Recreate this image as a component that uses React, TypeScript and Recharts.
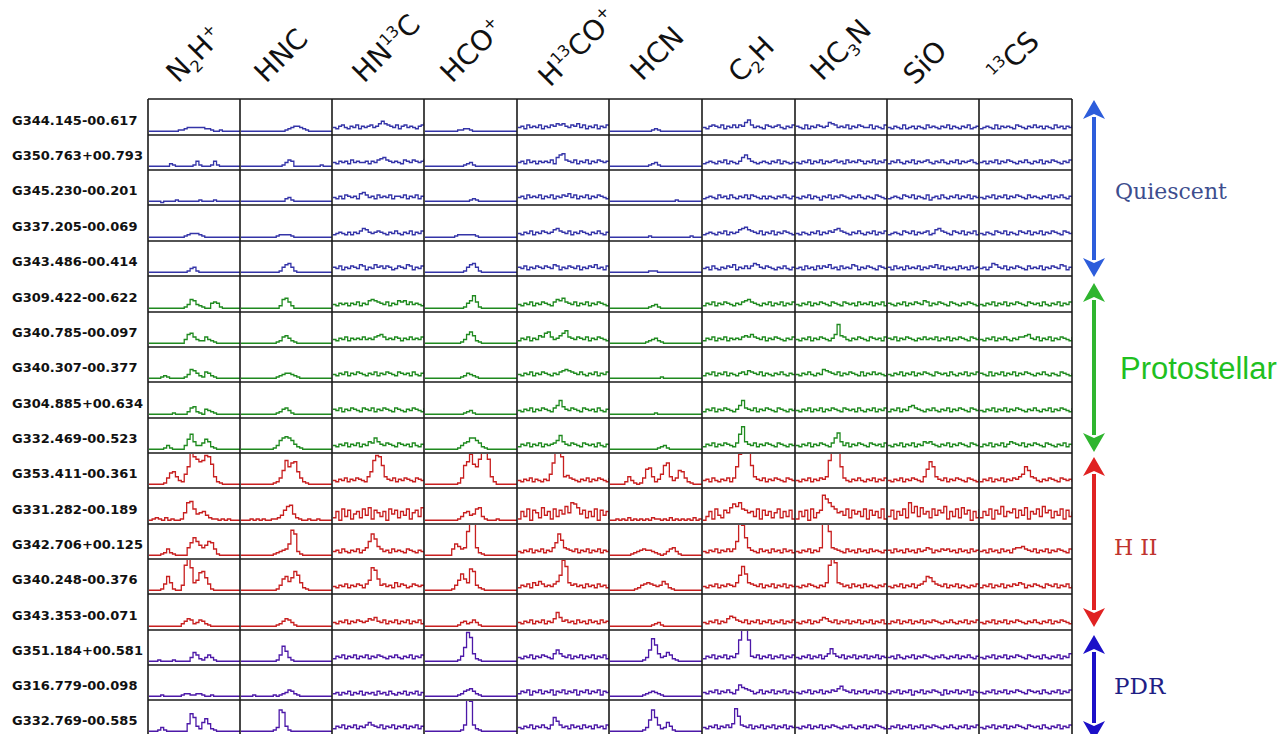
import React from "react";
import { LineChart, Line, XAxis, YAxis } from "recharts";

// source names, top to bottom
const sources = [
  "G344.145-00.617", "G350.763+00.793", "G345.230-00.201", "G337.205-00.069", "G343.486-00.414",
  "G309.422-00.622", "G340.785-00.097", "G340.307-00.377", "G304.885+00.634", "G332.469-00.523",
  "G353.411-00.361", "G331.282-00.189", "G342.706+00.125", "G340.248-00.376", "G343.353-00.071",
  "G351.184+00.581", "G316.779-00.098", "G332.769-00.585",
];

// group of each source row
const rowGroup = [0, 0, 0, 0, 0, 1, 1, 1, 1, 1, 2, 2, 2, 2, 2, 3, 3, 3];

const groups = [
  { name: "Quiescent", line: "#3434a8", arrow: "#2d5ddb", text: "#3d4d8e" },
  { name: "Protostellar", line: "#1f8a1f", arrow: "#2fb52f", text: "#1fc01f" },
  { name: "H II", line: "#c81f1f", arrow: "#e02222", text: "#c0332e" },
  { name: "PDR", line: "#4c18a8", arrow: "#1c10c8", text: "#1f1f85" },
];

// molecule header, [text, kind] parts
const molecules: [string, string][][] = [
  [["N", ""], ["2", "sub"], ["H", ""], ["+", "sup"]],
  [["HNC", ""]],
  [["HN", ""], ["13", "sup"], ["C", ""]],
  [["HCO", ""], ["+", "sup"]],
  [["H", ""], ["13", "sup"], ["CO", ""], ["+", "sup"]],
  [["HCN", ""]],
  [["C", ""], ["2", "sub"], ["H", ""]],
  [["HC", ""], ["3", "sub"], ["N", ""]],
  [["SiO", ""]],
  [["13", "sup"], ["CS", ""]],
];

// spectra, one string per molecule; each char = intensity (base 36)
const g344_145 = [
  "33333333334456666665543343333333", "33333333333333345677654333333333", "65786576857678679b98768578676578a",
  "33333333333445543333333333333333", "67586768576879897687968576857687", "33333333333333454333333333333333",
  "65787685768687ac8676587678657687", "76585768767a98676857687668576587", "65765856757658676576857657685676",
  "56765857676587657686757658675768",
];
const g350_763 = [
  "33333335433333347433347433333333", "33333333333333468733333333343333", "65767586766757689a87676587687679",
  "33333333333334564333333333333333", "6758675767685acd8768576857687677", "33333333333334564333333333333333",
  "5676576857657ac97656765768576567", "65768576857678675867687576857687", "57686576857678657686576857678657",
  "67576857687657686576857687657687",
];
const g345_230 = [
  "33332333343333333433334333333333", "33333333333333356433333333333333", "6575876759a867586768577685768576",
  "33333333333333345433333333333333", "67586768576857687968576857687657", "33333333333333333333334333333333",
  "56765867586576858765757657686576", "65768576476857687657686576587657", "56765876857658467586576857685768",
  "65768576857687658676576857686576",
];
const g337_205 = [
  "33333333333345666543333333333333", "33333333333345555433333333333333", "5676575768a976787657686576857687",
  "33333333334555555433333333333333", "6576857687679a876857687657686576", "33333333333334333333333333343333",
  "5676576857679ab98768576857687657", "65765768576879a87657686576857687", "56765876857678569a87658768576857",
  "65765876857658768576857687658767",
];
const g343_486 = [
  "33333333333334674333333333333333", "3333333333333479a743333333333333", "76857687698576978687568769857687",
  "3333333333333479a743333333333333", "76857687687698576876857687967586", "33333333333334443333333333333333",
  "67586576879576868a97687657686576", "67586758687967586769857687658767", "75867586768576879685767586758678",
  "6757a976857687658676857687698576",
];
const g309_422 = [
  "33333333333346a96543378743333333", "33333333333335ab8533333333333333", "6576757685769a987685769896867657",
  "3333333333333479d843333333333333", "6576857687658a9b8768576857687657", "33333333333334564333333333333333",
  "576857687657689a8765768576857687", "65768576876587658767586768576857", "76576857687698576876587657687657",
  "65768576857687658767586576857687",
];
const g340_785 = [
  "3333333333336ab86558654333333333", "33333333333345897543333333333333", "6576857676867689a867687576867686",
  "33333333333346ac9543333333333333", "576857698bc8679bd876876857687657", "33333333333345675433333333333333",
  "5768576857676898a876857687657687", "6576857687657ai98657687658767586", "76857687657686768576857687658768",
  "6576857686576889a768576857687658",
];
const g340_307 = [
  "33334543333346a97548754333333333", "33333333333345677654333333333333", "65768576876576857687658767586579",
  "33333333333345765433333333333333", "6576857687657689a987686576857687", "33333333333333333433333333333333",
  "57685768576578698768576576865766", "657686576a9876857687658576867657", "65768576857687658767586576857687",
  "76585768576857687657686576587657",
];
const g304_885 = [
  "33333333433335895437654333333333", "33333333333345786433333333333333", "76857687658768576876587657687658",
  "33333333333334564333333333333333", "6576857687658ae97687658767586576", "33333333333333343333333333333333",
  "576857687657ae876857687658765768", "65768576857687658767586576857687", "57685769a87657686576857687658767",
  "65768576857687657686576857687658",
];
const g332_469 = [
  "3333346433336bf9668b954333333333", "3333333333346acdca75433333333333", "65768576857698c97687658767586576",
  "333333333334689cca85433333333333", "5768576857678ae97687658767586576", "33333333333333334564333333333333",
  "576857687658fl976857687658765768", "6576857687658cg96857687658767586", "65768576857698976576857687658767",
  "57685768579876857687658765768576",
];
const g353_411 = [
  "3333348cd965bhspnlmqpj9543333333", "33333333333458emhkld854333333333", "6576857687659dmqpi976857687658767",
  "3333333333348ilrjhnxxn9533333333", "65768576576bkwxp9a876576857687658", "333335964348fg957bik968ed8543333",
  "67586576858hrxxsi976857687658765", "65768576879mxxxh8657686576857687", "6576857687659flh9768576876587657",
  "57685768576879bhe986576876587675",
];
const g331_282 = [
  "345435343349hic89a754434343333", "33343434334457bef85433433433333", "5a3c6b48a5c7d4b96a3c8b5a7c49b6d3",
  "33333333333469a78cd6433343333333", "4a6c3b95d7a4c6b8e9hgd8b5a6c3b7a4", "33434353434343544343534343435343",
  "36a4c75b9dgehcb9a6c4b7a59c5a6b43", "4a6b3c59bnkhec9a7c5b8a6c4b7a5c43", "6b4a7c5h9e6d8a5c7b9e4a6c5d8b3a5c",
  "5a7c4b8e6a9c5b7d4a8c6e9b5a7c4b6a",
];
const g342_706 = [
  "33334585433339dheb9bed8433333333", "3333333333345678cnk6433333333333", "675865768579ekga8675867658765765",
  "3333333338ca89mvs954333333333333", "6576857685769dkf98768576857685768", "33333334567877654346896433333333",
  "65768576868eyrh97658675867586756", "657685769ywm98765867586758676576", "75867586758679857687867586758678",
  "67586758675899a87685768576876587",
];
const g340_248 = [
  "333348e94337ntl9bhid843333333333", "33333333333347ceadif954333333333", "657685768758bljc7867596875687676",
  "33333333347bgc9ki754333333333333", "5768597a86768afrm978675867586758", "33333333457898767a8543333333333",
  "657685768769fmg98768576857685768", "65768765769nvp986758675867657686", "657685768578aeda8768576857657686",
  "57685768576879857687658768576857",
];
const g343_353 = [
  "33333333333579856875433333333333", "33333333333345798643333333333333", "65768576876798a76857685768576857",
  "33333333333467568643333333333333", "6576857685769ea78675867586758675", "33333333333333456433333333333333",
  "657685769ba876857685768576857685", "657685768a9768576857685768576857", "57685768576857687657686576857687",
  "65768576857687657686576857687658",
];
const g351_184 = [
  "333433334333336a8546864333333333", "33333333333348fb6433333333333333", "57685768576857687657686576857687",
  "3333333333347eqm9543333333333333", "6576857687659c976857685768576857", "3333333333346clg967a854333333333",
  "576857685769kvvk7685768576857685", "657685768579d97685768576857685768", "67586576857687657686576857686579",
  "65768576857687658767586576857699",
];
const g316_779 = [
  "33334333333455445543343333333333", "33334333333434568754333333333333", "56465746574656475647546574657465",
  "33333333333457897543333333333333", "57684768576847685768476857684768", "33333333333456765433333333333333",
  "657685768658ca987568576857685768", "657685768576879b8768576857685768", "57685768476857687648576857684768",
  "65768576857687658767586576857687",
];
const g332_769 = [
  "33346433333339he75ad954333333333", "3333333333346ki74333333333333333", "576857685768a8768576857685768576",
  "33333333333348wr8543333333333333", "657685768658eb867586758675867586", "3333333333346cke856a743333333333",
  "65768576869lf87685768576857685768", "65768576857687657686576857687658", "57685768576857687657686576857687",
  "65768576857687658767586576857687",
];

const spectra = [
  g344_145, g350_763, g345_230, g337_205, g343_486,
  g309_422, g340_785, g340_307, g304_885, g332_469,
  g353_411, g331_282, g342_706, g340_248, g343_353,
  g351_184, g316_779, g332_769,
];

// layout
const colX = [148, 240, 332, 424, 517, 609, 702, 795, 887, 979, 1072];
const rowY = [99, 135, 170, 205, 241, 276, 312, 347, 382, 418, 453, 488, 524, 559, 594, 630, 665, 700, 735];
const headX = [178, 266, 364, 452, 550, 642, 740, 822, 915, 1000];
const headY = [84, 84, 84, 84, 88, 82, 84, 82, 86, 84];
const arrowSpan = [[100, 277], [283, 452], [457, 627], [635, 740]];
const labelPos = [
  { x: 1115, y: 199, font: "DejaVu Serif", size: 22 },
  { x: 1120, y: 379, font: "Liberation Sans", size: 31 },
  { x: 1114, y: 555, font: "DejaVu Serif", size: 22 },
  { x: 1114, y: 694, font: "DejaVu Serif", size: 23 },
];

function toPoints(code: string) {
  return code.split("").map((c, i) => ({ x: i, y: parseInt(c, 36) }));
}

function Spectrum({ code, color, w, h }: { code: string; color: string; w: number; h: number }) {
  const data = toPoints(code);
  return (
    <LineChart width={w} height={h} data={data} margin={{ top: 0, right: 0, bottom: 0, left: 0 }}>
      <XAxis dataKey="x" type="number" domain={[0, data.length - 1]} hide />
      <YAxis type="number" domain={[0, h / 1.25]} hide width={0} allowDataOverflow />
      <Line
        type="stepAfter"
        dataKey="y"
        stroke={color}
        strokeWidth={1.3}
        dot={false}
        isAnimationActive={false}
      />
    </LineChart>
  );
}

function Header({ parts, x, y }: { parts: [string, string][]; x: number; y: number }) {
  let cur = 0;
  return (
    <text
      transform={`translate(${x},${y}) rotate(-45)`}
      fontFamily="DejaVu Sans"
      fontSize={28}
      fill="#111"
    >
      {parts.map(([t, kind], i) => {
        const off = kind === "sub" ? 6 : kind === "sup" ? -11 : 0;
        const dy = off - cur;
        cur = off;
        return (
          <tspan key={i} dy={dy} fontSize={kind ? 16 : 28}>
            {t}
          </tspan>
        );
      })}
    </text>
  );
}

function Arrow({ x, y1, y2, color }: { x: number; y1: number; y2: number; color: string }) {
  const hw = 11;
  const hh = 19;
  return (
    <g fill={color}>
      <rect x={x - 2} y={y1 + hh - 2} width={4} height={y2 - y1 - 2 * hh + 4} />
      <path d={`M${x},${y1} L${x + hw},${y1 + hh} L${x},${y1 + hh - 5} L${x - hw},${y1 + hh} Z`} />
      <path d={`M${x},${y2} L${x + hw},${y2 - hh} L${x},${y2 - hh + 5} L${x - hw},${y2 - hh} Z`} />
    </g>
  );
}

export default function App() {
  return (
    <div
      style={{
        position: "absolute",
        left: 0,
        top: 0,
        width: 1285,
        height: 734,
        background: "#fff",
        overflow: "hidden",
      }}
    >
      {spectra.map((row, r) =>
        row.map((code, c) => (
          <div
            key={`${r}-${c}`}
            style={{ position: "absolute", left: colX[c] + 1, top: rowY[r] + 1 }}
          >
            <Spectrum
              code={code}
              color={groups[rowGroup[r]].line}
              w={colX[c + 1] - colX[c] - 1}
              h={rowY[r + 1] - rowY[r] - 1}
            />
          </div>
        ))
      )}
      <svg width={1285} height={734} style={{ position: "absolute", left: 0, top: 0, pointerEvents: "none" }}>
        {colX.map((x) => (
          <line key={`v${x}`} x1={x} x2={x} y1={rowY[0]} y2={734} stroke="#1a1a1a" strokeWidth={1.6} />
        ))}
        {rowY.map((y) => (
          <line key={`h${y}`} x1={colX[0]} x2={colX[10]} y1={y} y2={y} stroke="#1a1a1a" strokeWidth={1.6} />
        ))}
        {sources.map((s, r) => (
          <text
            key={s}
            x={12}
            y={(rowY[r] + rowY[r + 1]) / 2 + 7.5}
            fontFamily="DejaVu Sans"
            fontWeight="bold"
            fontSize={13}
            fill="#111"
          >
            {s}
          </text>
        ))}
        {molecules.map((m, i) => (
          <Header key={i} parts={m} x={headX[i]} y={headY[i]} />
        ))}
        {groups.map((g, i) => (
          <Arrow key={g.name} x={1094} y1={arrowSpan[i][0]} y2={arrowSpan[i][1]} color={g.arrow} />
        ))}
        {groups.map((g, i) => (
          <text
            key={`l${g.name}`}
            x={labelPos[i].x}
            y={labelPos[i].y}
            fontFamily={labelPos[i].font}
            fontSize={labelPos[i].size}
            fill={g.text}
          >
            {g.name}
          </text>
        ))}
      </svg>
    </div>
  );
}
